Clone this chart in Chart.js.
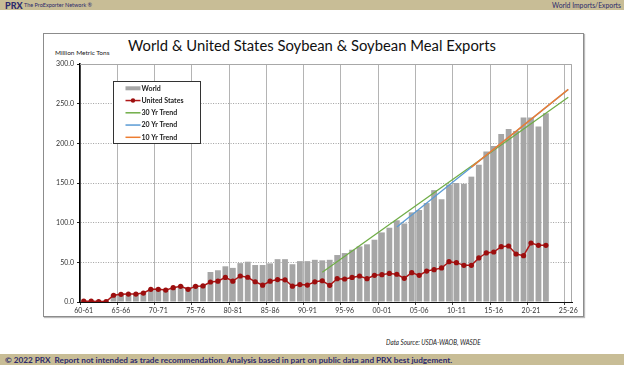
<!DOCTYPE html>
<html>
<head>
<meta charset="utf-8">
<script src="https://cdn.jsdelivr.net/npm/chart.js@4.4.1/dist/chart.umd.min.js"></script>
<style>
  html, body { margin: 0; padding: 0; background: #fff; }
  body { width: 624px; height: 371px; position: relative; overflow: hidden; font-family: 'Lato', sans-serif; }
  .band { position: absolute; left: 0; width: 624px; background: #c8bd96; color: #2c2a6c; }
  #top { top: 0; height: 10px; }
  #bottom { top: 354px; height: 11px; }
  .txt { position: absolute; white-space: nowrap; line-height: 1; }
  #box { position: absolute; left: 43px; top: 33px; width: 539px; height: 282px; border: 1px solid #8c8c8c; box-shadow: 1px 1px 1px #bbb; }
  #chart { position: absolute; left: 0; top: 0; }
</style>
</head>
<body>
<div class="band" id="top">
  <span class="txt" style="left:5px; top:1px; font-size:9px; font-weight:900;">PRX</span>
  <span class="txt" style="left:24px; top:2.5px; font-size:5.5px;">The ProExporter Network ®</span>
  <span class="txt" style="right:3px; top:2px; font-size:6.8px;">World Imports/Exports</span>
</div>
<div id="box"></div>
<div class="txt" id="title" style="left:0; width:624px; top:37.5px; text-align:center; font-size:14.8px; color:#111;">World &amp; United States Soybean &amp; Soybean Meal Exports</div>
<div class="txt" style="left:55px; top:50px; font-size:6.5px; color:#222;">Million Metric Tons</div>
<div class="txt" style="left:386px; top:339px; font-size:7px; font-style:italic; color:#222; transform:scaleX(0.9); transform-origin:left center;">Data Source: USDA-WAOB, WASDE</div>
<div class="band" id="bottom">
  <span class="txt" style="left:5px; top:1.5px; font-size:8.2px; font-weight:bold;">© 2022 PRX&nbsp; Report not intended as trade recommendation. Analysis based in part on public data and PRX best judgement.</span>
</div>
<canvas id="chart" width="624" height="371"></canvas>
<script>
const categories = [
  '60-61', '61-62', '62-63', '63-64', '64-65', '65-66', '66-67', '67-68', '68-69', '69-70',
  '70-71', '71-72', '72-73', '73-74', '74-75', '75-76', '76-77', '77-78', '78-79', '79-80',
  '80-81', '81-82', '82-83', '83-84', '84-85', '85-86', '86-87', '87-88', '88-89', '89-90',
  '90-91', '91-92', '92-93', '93-94', '94-95', '95-96', '96-97', '97-98', '98-99', '99-00',
  '00-01', '01-02', '02-03', '03-04', '04-05', '05-06', '06-07', '07-08', '08-09', '09-10',
  '10-11', '11-12', '12-13', '13-14', '14-15', '15-16', '16-17', '17-18', '18-19', '19-20',
  '20-21', '21-22', '22-23', '23-24', '24-25', '25-26'
];

// million metric tons
const world = [
  1.5, 1.5, 1.5, 1.5, 9.5, 10.5, 11, 11, 12, 16.5,
  17, 16.5, 18.5, 21, 18.5, 21.5, 21.5, 37.8, 40, 45,
  43, 49, 50.8, 46.6, 46.6, 48.7, 54, 54, 47.6, 51.5,
  51.5, 53.2, 52.5, 53.2, 59.2, 61.7, 65.9, 70.1, 72.7, 78.5,
  87.7, 93.6, 103, 99, 113, 116, 124.7, 141, 129.5, 148,
  150, 149, 158, 173, 189.8, 196.5, 211.8, 218, 215.5, 232.6,
  232.6, 221.2, 238
];

const unitedStates = [
  1, 1, 0.5, 0.5, 8.5, 9.7, 10, 10, 11.3, 16,
  16, 15, 18, 19.7, 16, 19.7, 20.2, 25.2, 26.2, 31,
  26.2, 32.8, 31.2, 25.5, 21.2, 26.2, 28.3, 28, 19.9, 22,
  21.3, 25.4, 26.8, 21, 29.4, 29, 31, 32.8, 29.4, 33.6,
  34.5, 36, 35, 29.8, 37, 33.6, 39, 40.8, 42.9, 50.8,
  49.6, 46.2, 46.2, 55.5, 61.8, 63, 69.7, 70.6, 60.5, 58.4,
  74.4, 71.4, 71.4
];

// trend lines: [start season, value], [end season, value]
const trend30 = [['92-93', 37.5], ['25-26', 258]];
const trend20 = [['02-03', 94.5], ['25-26', 268]];
const trend10 = [['12-13', 170], ['25-26', 268]];

const toPoints = (pairs) => pairs.map(([x, y]) => ({ x, y }));

const FONT = 'Lato';

const boxLegend = {
  id: 'boxLegend',
  beforeDatasetsDraw(chart) {
    const { ctx, chartArea: a } = chart;
    ctx.save();
    ctx.strokeStyle = '#a8a8a8';
    ctx.lineWidth = 1;
    ctx.beginPath();
    ctx.moveTo(a.left, a.top + 0.5);
    ctx.lineTo(a.right - 0.5, a.top + 0.5);
    ctx.lineTo(a.right - 0.5, a.bottom);
    ctx.stroke();
    ctx.restore();
  },
  afterDraw(chart) {
    const { ctx, chartArea: a } = chart;
    const left = a.left + 33.5, top = a.top + 17.5, w = 87, h = 62;
    ctx.save();
    ctx.fillStyle = '#fff';
    ctx.fillRect(left, top, w, h);
    ctx.strokeStyle = '#333';
    ctx.lineWidth = 1;
    ctx.strokeRect(left, top, w, h);
    ctx.font = 'bold 7px ' + FONT;
    ctx.textBaseline = 'middle';
    chart.data.datasets.forEach((ds, i) => {
      const y = top + 6.8 + i * 12.25;
      const x0 = left + 12, x1 = left + 27;
      if (ds.type === 'bar' || !ds.type) {
        ctx.fillStyle = ds.backgroundColor;
        ctx.fillRect(x0, y - 2, x1 - x0, 4);
      } else {
        ctx.strokeStyle = ds.borderColor;
        ctx.lineWidth = 1.5;
        ctx.beginPath();
        ctx.moveTo(x0, y);
        ctx.lineTo(x1, y);
        ctx.stroke();
        if (ds.pointRadius) {
          ctx.fillStyle = ds.pointBackgroundColor;
          ctx.beginPath();
          ctx.arc((x0 + x1) / 2, y, 2.2, 0, Math.PI * 2);
          ctx.fill();
        }
      }
      ctx.fillStyle = '#222';
      ctx.fillText(ds.label, x1 + 1, y);
    });
    ctx.restore();
  }
};

new Chart(document.getElementById('chart'), {
  type: 'bar',
  data: {
    labels: categories,
    datasets: [
      {
        type: 'bar',
        label: 'World',
        data: world,
        backgroundColor: '#a6a6a6',
        barPercentage: 0.78,
        categoryPercentage: 1,
        order: 10,
      },
      {
        type: 'line',
        label: 'United States',
        data: unitedStates,
        borderColor: '#b01818',
        borderWidth: 1.5,
        pointRadius: 2.6,
        pointBackgroundColor: '#9c0e0e',
        pointBorderColor: '#9c0e0e',
        pointBorderWidth: 0,
        tension: 0,
        order: 1,
      },
      {
        type: 'line',
        label: '30 Yr Trend',
        data: toPoints(trend30),
        borderColor: '#70ad47',
        borderWidth: 1.3,
        pointRadius: 0,
        order: 4,
      },
      {
        type: 'line',
        label: '20 Yr Trend',
        data: toPoints(trend20),
        borderColor: '#5b9bd5',
        borderWidth: 1.3,
        pointRadius: 0,
        order: 3,
      },
      {
        type: 'line',
        label: '10 Yr Trend',
        data: toPoints(trend10),
        borderColor: '#ed7d31',
        borderWidth: 1.4,
        pointRadius: 0,
        order: 2,
      },
    ],
  },
  options: {
    responsive: false,
    animation: false,
    events: [],
    layout: { padding: { left: 47, right: 52, top: 64, bottom: 55 } },
    scales: {
      x: {
        offset: true,
        grid: {
          offset: true,
          color: (c) => (c.index !== undefined && c.index % 5 === 0) ? '#b4b4b4' : 'rgba(0,0,0,0)',
          tickColor: (c) => (c.index !== undefined && c.index % 5 === 0) ? '#444' : 'rgba(0,0,0,0)',
          tickLength: 3,
          lineWidth: 1,
        },
        border: { display: true, color: '#111', width: 1 },
        ticks: {
          autoSkip: false,
          maxRotation: 0,
          minRotation: 0,
          padding: 2,
          color: '#333',
          font: { family: FONT, size: 7 },
          callback: function (value, i) {
            return i % 5 === 0 ? this.getLabelForValue(value) : '';
          },
        },
        afterFit: (s) => { s.height = 14; },
      },
      y: {
        min: 0,
        max: 300,
        grid: {
          color: '#a0a0a0',
          lineWidth: 1,
          tickColor: '#222',
          tickLength: 3,
        },
        border: { display: true, color: '#000', width: 1.6, dash: [1, 1.5] },
        ticks: {
          stepSize: 50,
          padding: 3,
          color: '#333',
          font: { family: FONT, size: 7 },
          callback: (v) => v.toFixed(1),
        },
        afterFit: (s) => { s.width = 33; },
      },
    },
    plugins: {
      legend: { display: false },
      tooltip: { enabled: false },
      title: { display: false },
    },
  },
  plugins: [boxLegend],
});
</script>
</body>
</html>
